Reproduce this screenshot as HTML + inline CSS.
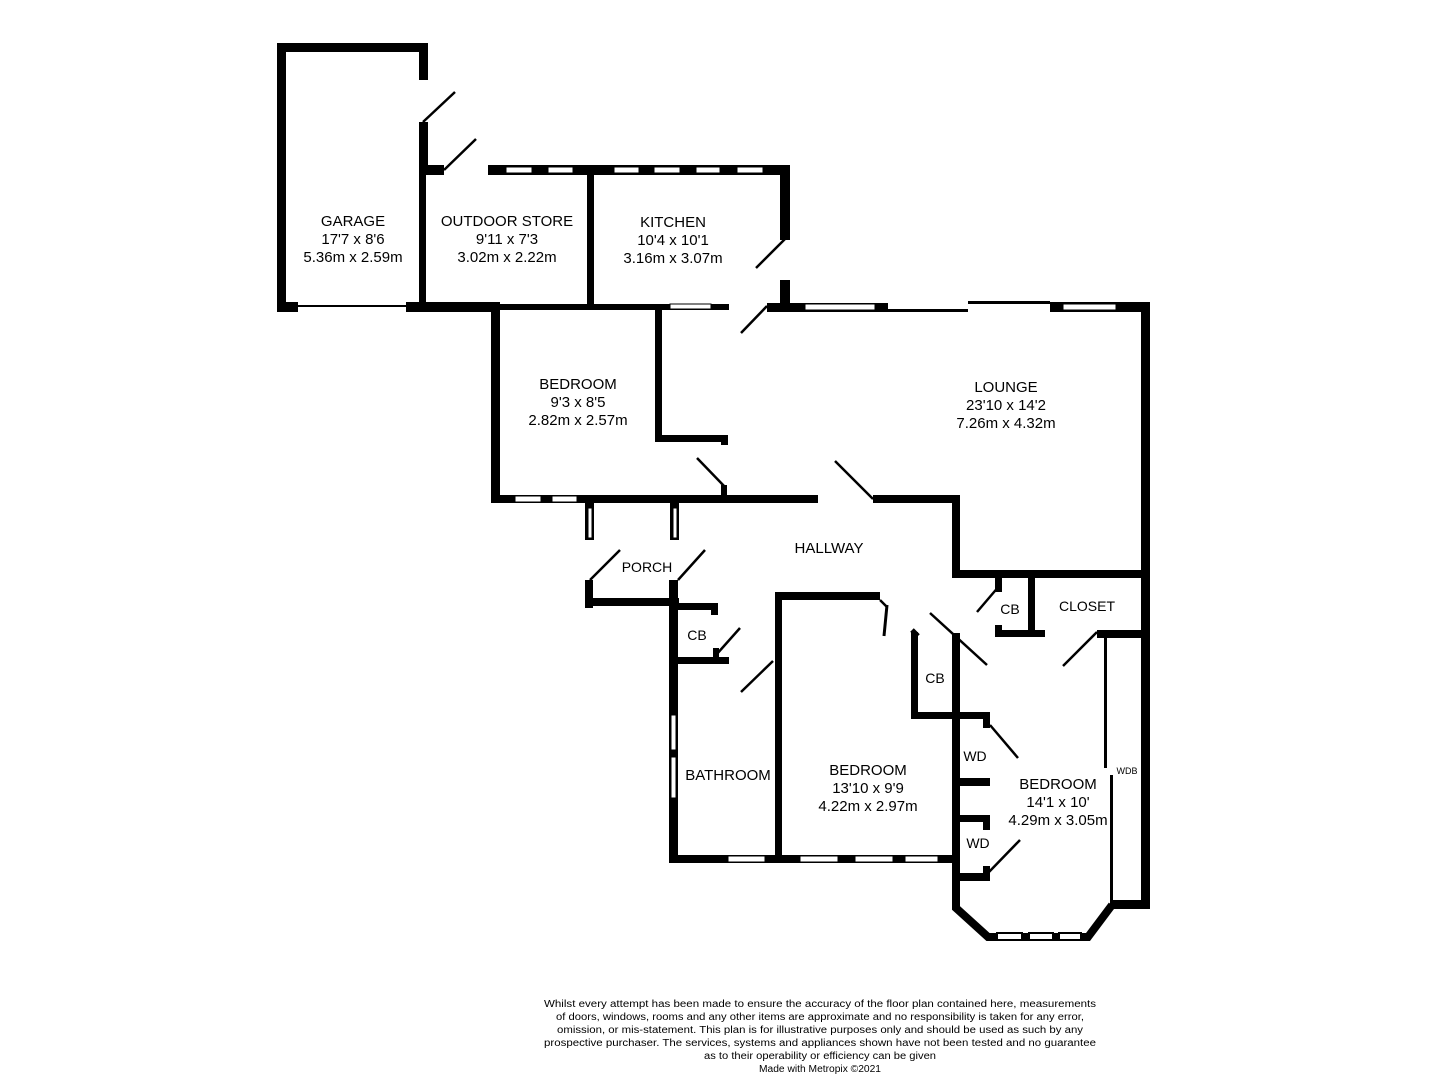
<!DOCTYPE html>
<html><head><meta charset="utf-8"><style>
html,body{margin:0;padding:0;background:#fff}
svg{display:block}
text{font-family:"Liberation Sans",Arial,sans-serif;fill:#000}
</style></head><body>
<svg width="1440" height="1080" viewBox="0 0 1440 1080" xmlns="http://www.w3.org/2000/svg">
<g fill="#000">
<rect x="277" y="43" width="151" height="9"/>
<rect x="277" y="43" width="9" height="269"/>
<rect x="419" y="43" width="9" height="37"/>
<rect x="419" y="122" width="9" height="53"/>
<rect x="419" y="165" width="25" height="10"/>
<rect x="419" y="165" width="7" height="145"/>
<rect x="277" y="302" width="21" height="10"/>
<rect x="298" y="305" width="108" height="2"/>
<rect x="406" y="302" width="94" height="10"/>
<rect x="500" y="304" width="229" height="6"/>
<rect x="488" y="165" width="302" height="10"/>
<rect x="587" y="165" width="7" height="140"/>
<rect x="780" y="165" width="10" height="75"/>
<rect x="780" y="280" width="10" height="32"/>
<rect x="767" y="303" width="121" height="9"/>
<rect x="491" y="303" width="9" height="200"/>
<rect x="491" y="495" width="327" height="8"/>
<rect x="655" y="309" width="7" height="133"/>
<rect x="655" y="435" width="73" height="7"/>
<rect x="721" y="435" width="7" height="10"/>
<rect x="721" y="485" width="6" height="12"/>
<rect x="888" y="309" width="80" height="3"/>
<rect x="968" y="301" width="82" height="3"/>
<rect x="1050" y="302" width="100" height="10"/>
<rect x="1141" y="302" width="9" height="607"/>
<rect x="873" y="495" width="87" height="8"/>
<rect x="952" y="495" width="8" height="83"/>
<rect x="952" y="570" width="196" height="8"/>
<rect x="995" y="577" width="7" height="15"/>
<rect x="995" y="625" width="7" height="12"/>
<rect x="995" y="630" width="50" height="7"/>
<rect x="1028" y="577" width="7" height="60"/>
<rect x="1097" y="630" width="51" height="8"/>
<rect x="1104" y="638" width="3" height="130"/>
<rect x="1110" y="775" width="3" height="127"/>
<rect x="585" y="503" width="9" height="37"/>
<rect x="670" y="503" width="9" height="37"/>
<rect x="585" y="580" width="8" height="28"/>
<rect x="585" y="598" width="94" height="8"/>
<rect x="669" y="580" width="9" height="283"/>
<rect x="678" y="603" width="40" height="7"/>
<rect x="711" y="603" width="7" height="12"/>
<rect x="678" y="657" width="51" height="7"/>
<rect x="713" y="648" width="6" height="12"/>
<rect x="775" y="592" width="7" height="270"/>
<rect x="775" y="592" width="105" height="8"/>
<rect x="911" y="632" width="7" height="87"/>
<rect x="911" y="712" width="79" height="7"/>
<rect x="983" y="712" width="7" height="16"/>
<rect x="952" y="633" width="8" height="272"/>
<rect x="669" y="855" width="291" height="8"/>
<rect x="960" y="778" width="30" height="8"/>
<rect x="960" y="815" width="30" height="7"/>
<rect x="983" y="815" width="7" height="15"/>
<rect x="960" y="873" width="30" height="8"/>
<rect x="983" y="866" width="7" height="15"/>
<rect x="1110" y="900" width="40" height="9"/>
</g>
<polyline points="956,900 956,908 988,937 1088,937 1112,905" fill="none" stroke="#000" stroke-width="8"/>
<g stroke="#000" stroke-width="2" fill="#fff">
<line x1="966" y1="914" x2="983" y2="930"/>
<rect x="997" y="933" width="25" height="7"/><rect x="1029" y="933" width="24" height="7"/><rect x="1059" y="933" width="22" height="7"/>
<line x1="1093" y1="928" x2="1106" y2="912"/>
</g>
<g stroke="#000" stroke-width="2.5">
<line x1="423" y1="122" x2="455" y2="92"/>
<line x1="444" y1="170" x2="476" y2="139"/>
<line x1="756" y1="268" x2="786" y2="238"/>
<line x1="741" y1="333" x2="767" y2="306"/>
<line x1="697" y1="458" x2="725" y2="487"/>
<line x1="835" y1="461" x2="873" y2="499"/>
<line x1="590" y1="580" x2="620" y2="550"/>
<line x1="678" y1="580" x2="705" y2="550"/>
<line x1="716" y1="655" x2="740" y2="628"/>
<line x1="741" y1="692" x2="773" y2="661"/>
<line x1="880" y1="600" x2="887" y2="607"/>
<line x1="887" y1="605" x2="884" y2="636" stroke-width="3"/>
<line x1="912" y1="630" x2="918" y2="636" stroke-width="5"/>
<line x1="930" y1="613" x2="987" y2="665"/>
<line x1="977" y1="612" x2="1000" y2="585"/>
<line x1="1063" y1="666" x2="1097" y2="632"/>
<line x1="990" y1="725" x2="1018" y2="758"/>
<line x1="988" y1="873" x2="1020" y2="840"/>
</g>
<g fill="#fff" stroke="#000" stroke-width="1">
<rect x="506" y="167" width="26" height="6"/><rect x="548" y="167" width="25" height="6"/>
<rect x="614" y="167" width="25" height="6"/><rect x="654" y="167" width="26" height="6"/>
<rect x="696" y="167" width="24" height="6"/><rect x="737" y="167" width="26" height="6"/>
<rect x="670" y="304" width="41" height="5"/>
<rect x="805" y="304" width="70" height="6"/>
<rect x="1063" y="304" width="53" height="6"/>
<rect x="515" y="496" width="26" height="6"/><rect x="552" y="496" width="25" height="6"/>
<rect x="588" y="508" width="4" height="30"/><rect x="673" y="508" width="4" height="30"/>
<rect x="671" y="715" width="5" height="35"/><rect x="671" y="757" width="5" height="41"/>
<rect x="728" y="856" width="37" height="6"/><rect x="800" y="856" width="38" height="6"/>
<rect x="855" y="856" width="38" height="6"/><rect x="905" y="856" width="33" height="6"/>
</g>
<g font-size="15" text-anchor="middle">
<text x="353" y="226">GARAGE</text><text x="353" y="244">17'7 x 8'6</text><text x="353" y="262">5.36m x 2.59m</text>
<text x="507" y="226">OUTDOOR STORE</text><text x="507" y="244">9'11 x 7'3</text><text x="507" y="262">3.02m x 2.22m</text>
<text x="673" y="227">KITCHEN</text><text x="673" y="245">10'4 x 10'1</text><text x="673" y="263">3.16m x 3.07m</text>
<text x="578" y="389">BEDROOM</text><text x="578" y="407">9'3 x 8'5</text><text x="578" y="425">2.82m x 2.57m</text>
<text x="1006" y="392">LOUNGE</text><text x="1006" y="410">23'10 x 14'2</text><text x="1006" y="428">7.26m x 4.32m</text>
<text x="829" y="553">HALLWAY</text>
<text x="647" y="572" font-size="14">PORCH</text>
<text x="697" y="640" font-size="14">CB</text>
<text x="1010" y="614" font-size="14">CB</text>
<text x="1087" y="611" font-size="14">CLOSET</text>
<text x="935" y="683" font-size="14">CB</text>
<text x="728" y="780">BATHROOM</text>
<text x="868" y="775">BEDROOM</text><text x="868" y="793">13'10 x 9'9</text><text x="868" y="811">4.22m x 2.97m</text>
<text x="975" y="761" font-size="14">WD</text>
<text x="978" y="848" font-size="14">WD</text>
<text x="1058" y="789">BEDROOM</text><text x="1058" y="807">14'1 x 10'</text><text x="1058" y="825">4.29m x 3.05m</text>
<text x="1127" y="774" font-size="9">WDB</text>
</g>
<g font-size="10" text-anchor="middle">
<text x="820" y="1007" textLength="552" lengthAdjust="spacingAndGlyphs">Whilst every attempt has been made to ensure the accuracy of the floor plan contained here, measurements</text>
<text x="820" y="1020" textLength="528" lengthAdjust="spacingAndGlyphs">of doors, windows, rooms and any other items are approximate and no responsibility is taken for any error,</text>
<text x="820" y="1033" textLength="526" lengthAdjust="spacingAndGlyphs">omission, or mis-statement. This plan is for illustrative purposes only and should be used as such by any</text>
<text x="820" y="1046" textLength="552" lengthAdjust="spacingAndGlyphs">prospective purchaser. The services, systems and appliances shown have not been tested and no guarantee</text>
<text x="820" y="1059" textLength="232" lengthAdjust="spacingAndGlyphs">as to their operability or efficiency can be given</text>
<text x="820" y="1072" textLength="122" lengthAdjust="spacingAndGlyphs">Made with Metropix ©2021</text>
</g>
</svg>
</body></html>
